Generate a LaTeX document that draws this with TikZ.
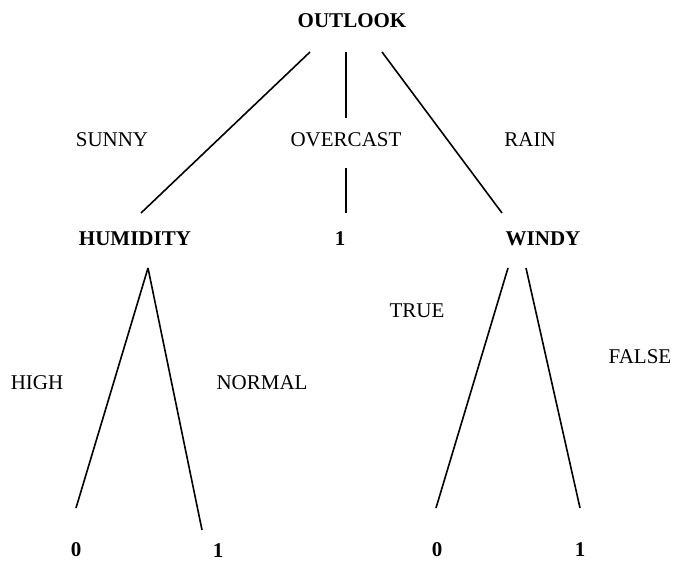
\documentclass[tikz,border=0pt]{standalone}
\usepackage{fontspec}
\setmainfont{Liberation Serif}
\begin{document}
\begin{tikzpicture}[x=1pt,y=-1pt,
  lbl/.style={inner sep=0pt,font=\fontsize{21}{25}\selectfont},
  attr/.style={lbl,font=\fontsize{21}{25}\selectfont\bfseries},
  edge/.style={line width=1.6pt}]
\useasboundingbox (0,0) rectangle (674,561);
% nodes
\node[attr] (outlook) at (352,21) {OUTLOOK};
\node[attr] (humidity) at (135,239) {HUMIDITY};
\node[attr] (ovone) at (340,239) {1};
\node[attr] (windy) at (543,239) {WINDY};
\node[attr] (hzero) at (76,550) {0};
\node[attr] (hone) at (218,551) {1};
\node[attr] (wzero) at (437,550) {0};
\node[attr] (wone) at (580,550) {1};
% edge labels
\node[lbl] (sunny) at (112,140) {SUNNY};
\node[lbl] (overcast) at (346,140) {OVERCAST};
\node[lbl] (rain) at (530,140) {RAIN};
\node[lbl] (high) at (37,383) {HIGH};
\node[lbl] (normal) at (262,383) {NORMAL};
\node[lbl] (true) at (417,311) {TRUE};
\node[lbl] (false) at (640,357) {FALSE};
% connector end points
\coordinate (oL) at (310,52);
\coordinate (oM) at (346,52);
\coordinate (oR) at (382,52);
\coordinate (hT) at (141,213);
\coordinate (mA) at (346,118);
\coordinate (mB) at (346,168);
\coordinate (mC) at (346,213);
\coordinate (wT) at (502,213);
\coordinate (hA) at (148,268);
\coordinate (hL) at (76,508);
\coordinate (hR) at (202,530);
\coordinate (wA) at (508,268);
\coordinate (wB) at (526,268);
\coordinate (wL) at (436,508);
\coordinate (wR) at (580,508);
% connectors
\draw[edge] (oL) -- (hT);
\draw[edge] (oM) -- (mA);
\draw[edge] (mB) -- (mC);
\draw[edge] (oR) -- (wT);
\draw[edge] (hA) -- (hL);
\draw[edge] (hA) -- (hR);
\draw[edge] (wA) -- (wL);
\draw[edge] (wB) -- (wR);
\end{tikzpicture}
\end{document}
